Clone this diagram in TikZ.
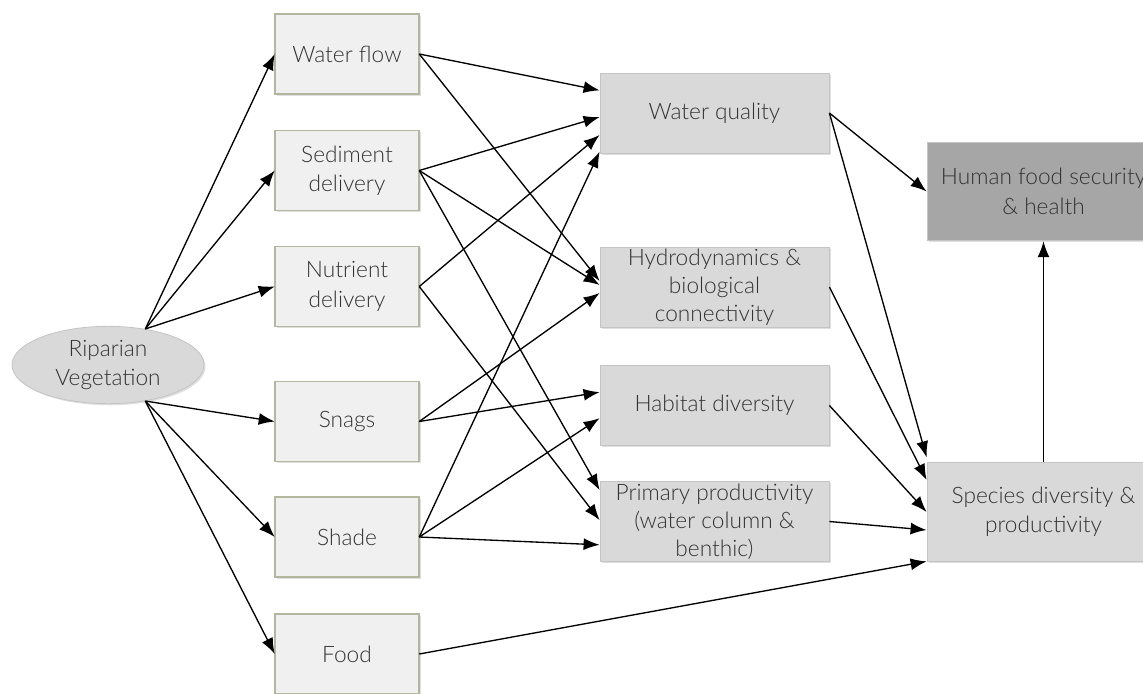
\documentclass[tikz,border=0pt]{standalone}
\usepackage{fontspec}
\setmainfont{Lato Light}
\usetikzlibrary{arrows.meta,shadows,patterns,shapes.geometric}
\definecolor{txt}{HTML}{333333}
\definecolor{lbfill}{HTML}{EFEFEF}
\definecolor{lbdraw}{HTML}{B4B7A0}
\definecolor{mfill}{HTML}{D9D9D9}
\definecolor{mdraw}{HTML}{C4C4C4}
\definecolor{dfill}{HTML}{A6A6A6}
\begin{document}
\begin{tikzpicture}[x=0.75pt,y=-0.75pt,
  base/.style={align=center, text=txt, inner sep=0pt, font=\fontsize{17}{22}\selectfont,
    drop shadow={shadow xshift=1.2pt, shadow yshift=-1.2pt, opacity=0.25}},
  lbox/.style={base, rectangle, fill=lbfill,
    postaction={pattern=north east lines, pattern color=black!4},
    postaction={draw=lbdraw, line width=0.8pt},
    minimum width=108pt, minimum height=60pt},
  mbox/.style={base, rectangle, draw=mdraw, line width=0.6pt, fill=mfill,
    minimum width=171.75pt, minimum height=60pt},
  rbox/.style={base, rectangle, draw=mdraw, line width=0.6pt, fill=mfill,
    minimum width=174.75pt, minimum height=74pt},
  ell/.style={base, ellipse, draw=mdraw, line width=0.6pt, fill=mfill,
    minimum width=144pt, minimum height=58pt},
  conn/.style={-{Latex[length=12pt,width=9pt]}, line width=1pt, black}]
\useasboundingbox (0,0) rectangle (1143,693);

\node[ell] (rv) at (108,365) {Riparian\\Vegetation};

\node[lbox] (wf) at (347,54) {Water flow};
\node[lbox] (sd) at (347,170.5) {Sediment\\delivery};
\node[lbox] (nd) at (347,286.5) {Nutrient\\delivery};
\node[lbox] (sn) at (347,421.5) {Snags};
\node[lbox] (sh) at (347,537) {Shade};
\node[lbox] (fd) at (347,654) {Food};

\node[mbox] (wq) at (714.5,113) {Water quality};
\node[mbox, font=\fontsize{17}{21}\selectfont] (hy) at (714.5,287) {Hydrodynamics \&\\biological\\connectivity};
\node[mbox] (hd) at (714.5,405.5) {Habitat diversity};
\node[mbox, font=\fontsize{17}{21}\selectfont] (pp) at (714.5,521.5) {Primary productivity\\(water column \&\\benthic)};

\node[rbox, fill=dfill] (hf) at (1043.5,191.5) {Human food security\\\& health};
\node[rbox] (sp) at (1043.5,512) {Species diversity \&\\productivity};

% from riparian vegetation
\draw[conn] (rv.44) -- (wf.west);
\draw[conn] (rv.44) -- (sd.west);
\draw[conn] (rv.44) -- (nd.west);
\draw[conn] (rv.-44) -- (sn.west);
\draw[conn] (rv.-44) -- (sh.west);
\draw[conn] (rv.-44) -- (fd.west);

% to water quality
\draw[conn] (wf.east) -- ([yshift=17pt]wq.west);
\draw[conn] (sd.east) -- ([yshift=-3pt]wq.west);
\draw[conn] (nd.east) -- ([yshift=-16.5pt]wq.west);
\draw[conn] (sh.east) -- ([yshift=-29pt]wq.west);

% to hydrodynamics
\draw[conn] (wf.east) -- ([yshift=4.5pt]hy.west);
\draw[conn] (sd.east) -- ([yshift=1.5pt]hy.west);
\draw[conn] (sn.east) -- ([yshift=-4.5pt]hy.west);

% to habitat diversity
\draw[conn] (sn.east) -- ([yshift=10pt]hd.west);
\draw[conn] (sh.east) -- ([yshift=-9.5pt]hd.west);

% to primary productivity
\draw[conn] (sd.east) -- ([yshift=23.5pt]pp.west);
\draw[conn] (nd.east) -- ([yshift=1pt]pp.west);
\draw[conn] (sh.east) -- ([yshift=-17.5pt]pp.west);

% to species diversity
\draw[conn] (wq.east) -- ([yshift=41pt]sp.west);
\draw[conn] (hy.east) -- ([yshift=24pt]sp.west);
\draw[conn] (hd.east) -- (sp.west);
\draw[conn] (pp.east) -- ([yshift=-13.5pt]sp.west);
\draw[conn] (fd.east) -- ([yshift=-37pt]sp.west);

% to human food security
\draw[conn] (wq.east) -- (hf.west);
\draw[conn] (sp.north) -- (hf.south);
\end{tikzpicture}
\end{document}
